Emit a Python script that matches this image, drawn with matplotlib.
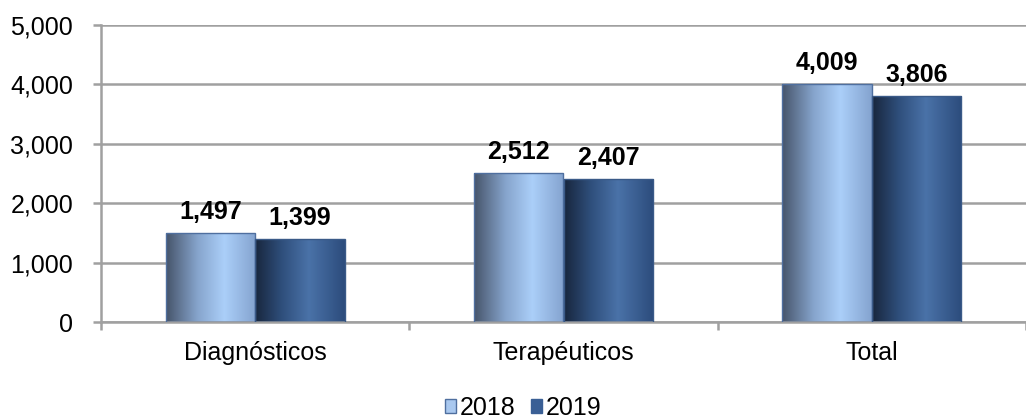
import numpy as np
import matplotlib.pyplot as plt
from matplotlib.colors import LinearSegmentedColormap
from matplotlib.patches import Patch
from matplotlib.ticker import FuncFormatter

plt.rcParams['font.family'] = ['Liberation Sans', 'DejaVu Sans']

categorias = ["Diagnósticos", "Terapéuticos", "Total"]
anios = ["2018", "2019"]
valores_2018 = [1497, 2512, 4009]
valores_2019 = [1399, 2407, 3806]

# degradados horizontales de cada serie
cmap18 = LinearSegmentedColormap.from_list(
    "c18", [(0, "#46546a"), (0.35, "#86a4cc"), (0.65, "#abcff9"), (1, "#84a3cf")])
cmap19 = LinearSegmentedColormap.from_list(
    "c19", [(0, "#18263d"), (0.3, "#2f4f7c"), (0.6, "#4a72a8"), (1, "#2c4c7c")])

fig = plt.figure(figsize=(10.26, 4.2), dpi=100)
ax = fig.add_axes([101 / 1026, 1 - 322 / 420, 1 - 101 / 1026, (322 - 25) / 420])

x = np.arange(len(categorias))
w = 0.29
grad = np.linspace(0, 1, 256).reshape(1, -1)

for vals, off, cmap, borde in [(valores_2018, -w / 2, cmap18, "#4f6f9f"),
                               (valores_2019, w / 2, cmap19, "#3a5a88")]:
    barras = ax.bar(x + off, vals, w, color="none", edgecolor=borde, linewidth=1, zorder=3)
    for b, v in zip(barras, vals):
        x0 = b.get_x()
        im = ax.imshow(grad, cmap=cmap, aspect="auto", extent=[x0, x0 + w, 0, v],
                       zorder=2.5, interpolation="bilinear")
        im.set_clip_path(b)
        ax.text(x0 + w / 2, v + 150, f"{v:,}", ha="center", va="bottom",
                fontsize=18, fontweight="bold", color="black")

ax.set_xlim(-0.5, 2.474)
ax.set_ylim(0, 5000)
ax.set_yticks(np.arange(0, 5001, 1000))
ax.yaxis.set_major_formatter(FuncFormatter(lambda v, p: f"{int(v):,}"))
ax.set_xticks(x)
ax.set_xticklabels(categorias)
ax.set_xticks([-0.5, 0.5, 1.5, 2.5], minor=True)

ax.grid(axis="y", color="#a0a0a0", linewidth=1.8, zorder=0)
ax.set_axisbelow(True)
for s in ["top", "right"]:
    ax.spines[s].set_visible(False)
for s in ["left", "bottom"]:
    ax.spines[s].set_color("#a0a0a0")
    ax.spines[s].set_linewidth(1.8)

ax.tick_params(axis="y", length=6, width=1.8, color="#a0a0a0", labelsize=18, pad=14)
ax.tick_params(axis="x", which="major", length=0, labelsize=18, pad=14)
ax.tick_params(axis="x", which="minor", length=6, width=1.8, color="#a0a0a0")

handles = [Patch(facecolor="#a9c8ef", edgecolor="#4f6f9f", label=anios[0]),
           Patch(facecolor="#3a5f95", edgecolor="#3a5f95", label=anios[1])]
fig.legend(handles=handles, loc="center", bbox_to_anchor=(523 / 1026, 1 - 408 / 420),
           ncol=2, frameon=False, fontsize=18, handlelength=0.45, handleheight=0.45,
           handletextpad=0.15, columnspacing=0.6, borderpad=0)

fig.savefig("out.png", dpi=100)
